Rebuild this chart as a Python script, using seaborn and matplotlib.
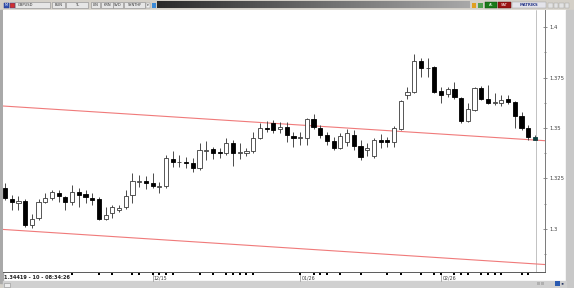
import numpy as np
import pandas as pd
import matplotlib
matplotlib.use("Agg")
import matplotlib.pyplot as plt
import matplotlib.transforms as mtransforms
from matplotlib.patches import Rectangle
from matplotlib.ticker import MultipleLocator, FuncFormatter
import seaborn as sns

# ---------------- data ----------------
opens = [1.3202, 1.3148, 1.3128, 1.3139, 1.3019, 1.3054, 1.3134, 1.3154, 1.3179, 1.3159,
         1.3133, 1.3184, 1.3171, 1.3153, 1.3148, 1.3047, 1.3077, 1.3093, 1.3107, 1.3168,
         1.3232, 1.3239, 1.3229, 1.3207, 1.3212, 1.3346, 1.3329, 1.3333, 1.3325, 1.3300,
         1.3384, 1.3394, 1.3379, 1.3375, 1.3427, 1.3377, 1.3375, 1.3387, 1.3452, 1.3501,
         1.3523, 1.3494, 1.3503, 1.3460, 1.3449, 1.3449, 1.3545, 1.3499, 1.3465, 1.3436,
         1.3399, 1.3431, 1.3465, 1.3411, 1.3391, 1.3361, 1.3440, 1.3440, 1.3429, 1.3494,
         1.3664, 1.3680, 1.3834, 1.3795, 1.3804, 1.3685, 1.3669, 1.3693, 1.3647, 1.3536,
         1.3589, 1.3697, 1.3642, 1.3626, 1.3623, 1.3642, 1.3630, 1.3560, 1.3499, 1.3457]
highs = [1.3227, 1.3168, 1.3163, 1.3148, 1.3073, 1.3148, 1.3178, 1.3192, 1.3192, 1.3163,
         1.3217, 1.3202, 1.3192, 1.3178, 1.3158, 1.3108, 1.3118, 1.3118, 1.3192, 1.3277,
         1.3267, 1.3262, 1.3277, 1.3232, 1.3366, 1.3387, 1.3366, 1.3356, 1.3351, 1.3427,
         1.3437, 1.3406, 1.3401, 1.3449, 1.3440, 1.3426, 1.3401, 1.3482, 1.3523, 1.3535,
         1.3540, 1.3531, 1.3531, 1.3482, 1.3482, 1.3551, 1.3568, 1.3515, 1.3482, 1.3457,
         1.3474, 1.3495, 1.3490, 1.3440, 1.3426, 1.3450, 1.3470, 1.3457, 1.3510, 1.3639,
         1.3705, 1.3867, 1.3846, 1.3846, 1.3809, 1.3705, 1.3705, 1.3730, 1.3654, 1.3623,
         1.3701, 1.3708, 1.3713, 1.3672, 1.3664, 1.3664, 1.3636, 1.3581, 1.3515, 1.3465]
lows = [1.3143, 1.3093, 1.3093, 1.3009, 1.3004, 1.3044, 1.3128, 1.3143, 1.3133, 1.3093,
        1.3118, 1.3108, 1.3128, 1.3118, 1.3044, 1.3044, 1.3054, 1.3083, 1.3098, 1.3129,
        1.3207, 1.3197, 1.3202, 1.3178, 1.3202, 1.3308, 1.3307, 1.3302, 1.3283, 1.3292,
        1.3341, 1.3345, 1.3351, 1.3366, 1.3312, 1.3346, 1.3361, 1.3376, 1.3445, 1.3482,
        1.3474, 1.3474, 1.3432, 1.3404, 1.3416, 1.3416, 1.3495, 1.3449, 1.3416, 1.3391,
        1.3396, 1.3411, 1.3391, 1.3341, 1.3361, 1.3351, 1.3401, 1.3407, 1.3404, 1.3490,
        1.3642, 1.3672, 1.3754, 1.3754, 1.3674, 1.3623, 1.3652, 1.3644, 1.3523, 1.3531,
        1.3584, 1.3639, 1.3619, 1.3614, 1.3611, 1.3619, 1.3499, 1.3490, 1.3440, 1.3440]
closes = [1.3153, 1.3133, 1.3138, 1.3019, 1.3049, 1.3134, 1.3153, 1.3183, 1.3163, 1.3133,
          1.3184, 1.3168, 1.3159, 1.3143, 1.3049, 1.3068, 1.3107, 1.3103, 1.3163, 1.3239,
          1.3239, 1.3229, 1.3212, 1.3212, 1.3350, 1.3330, 1.3333, 1.3325, 1.3300, 1.3391,
          1.3391, 1.3377, 1.3375, 1.3424, 1.3375, 1.3382, 1.3387, 1.3452, 1.3501, 1.3494,
          1.3490, 1.3506, 1.3465, 1.3449, 1.3457, 1.3545, 1.3506, 1.3465, 1.3437, 1.3399,
          1.3462, 1.3475, 1.3411, 1.3356, 1.3401, 1.3440, 1.3431, 1.3429, 1.3499, 1.3635,
          1.3680, 1.3834, 1.3796, 1.3799, 1.3680, 1.3664, 1.3693, 1.3652, 1.3536, 1.3593,
          1.3697, 1.3642, 1.3623, 1.3630, 1.3639, 1.3630, 1.3560, 1.3499, 1.3457, 1.3442]

date_labels = ["12/15", "01/26", "02/26"]
date_label_idx = [22, 44, 65]
day_tick_idx = [10, 14, 16, 19, 20, 22, 23, 24, 25, 29, 31, 33, 34, 35, 36, 37,
                44, 46, 47, 48, 50, 53, 57, 59, 62, 64, 65, 67, 68, 69, 71, 72,
                73, 74, 77, 78]
y_ticks = [1.3, 1.325, 1.35, 1.375, 1.4]
channel_x = [-0.3, 80.5]
channel_upper = [1.3609, 1.3437]
channel_lower = [1.2997, 1.2823]
status_text = "1.34419 - 10 - 08:34:26"
toolbar_buttons = ["GBPUSD", "BUN", "TL", "LIN", "KRN", "SVD", "SYNTHF"]

# ---------------- figure ----------------
sns.set_style("white")
plt.rcParams["font.family"] = ["DejaVu Sans"]

W, H = 574, 288
fig = plt.figure(figsize=(W / 100, H / 100), dpi=100)
fig.patch.set_facecolor("#d4d0c8")

def fx(px):
    return px / W

def fy(py):
    return 1 - py / H

# background layer (pixel coords)
bg = fig.add_axes([0, 0, 1, 1], zorder=-5)
bg.set_xlim(0, W); bg.set_ylim(H, 0); bg.axis("off")
bg.add_patch(Rectangle((0, 0), W, H, color="#d4d0c8"))
bg.add_patch(Rectangle((3, 10), 563, 271, color="white"))
bg.add_patch(Rectangle((0, 10), 2.5, 273, color="#a9a9a9"))
bg.add_patch(Rectangle((566, 10), 8, 278, color="#c8c8c8"))
bg.add_patch(Rectangle((3, 281), 563, 7, color="#d0d0d0"))
bg.add_patch(Rectangle((4, 282.5), 6, 4, facecolor="#ececec", edgecolor="#909090", lw=0.4))

# ---------------- main chart axes ----------------
left, right, top, bottom = 3, 545, 10, 272
ax = fig.add_axes([fx(left), fy(bottom), fx(right - left), (bottom - top) / H])
ax.set_facecolor("white")

idx = np.arange(len(opens))
o = np.array(opens); c = np.array(closes)
hi = np.array(highs); lo = np.array(lows)
bull = c >= o
body_low = np.minimum(o, c)
body_h = np.maximum(np.abs(c - o), 0.00035)

# channel lines (seaborn)
sns.lineplot(x=channel_x, y=channel_upper, ax=ax, color="#f07a7a", lw=0.8, zorder=1)
sns.lineplot(x=channel_x, y=channel_lower, ax=ax, color="#f07a7a", lw=0.8, zorder=1)

# shift line near the last bar
ax.axvline(79.1, color="#b8b8b8", lw=0.6, zorder=0.5)

# wicks
ax.vlines(idx, lo, hi, color="#4a4a4a", lw=0.7, zorder=2)
# bodies
ax.bar(idx[bull], body_h[bull], bottom=body_low[bull], width=0.62,
       color="white", edgecolor="#3a3a3a", linewidth=0.6, zorder=3)
bear_colors = ["black"] * int((~bull).sum())
bear_colors[-1] = "#0f3f3f"  # last (live) bar, drawn over by the channel line
ax.bar(idx[~bull], body_h[~bull], bottom=body_low[~bull], width=0.62,
       color=bear_colors, edgecolor=bear_colors, linewidth=0.6, zorder=3)

ax.set_xlim(-0.3, 80.5)
ax.set_ylim(1.2786, 1.4085)

for s in ["top", "left"]:
    ax.spines[s].set_visible(False)
ax.spines["right"].set_color("#7a7a7a")
ax.spines["right"].set_linewidth(0.7)
ax.spines["bottom"].set_color("#5a5a5a")
ax.spines["bottom"].set_linewidth(0.7)

ax.set_xticks([])
ax.yaxis.tick_right()
ax.set_yticks(y_ticks)
ax.yaxis.set_minor_locator(MultipleLocator(0.0125))
ax.yaxis.set_major_formatter(FuncFormatter(lambda v, p: f"{v:g}"))
ax.tick_params(axis="y", which="major", direction="inout", length=3, width=0.5,
               color="#606060", labelsize=3.8, pad=1.5, labelcolor="#404040")
ax.tick_params(axis="y", which="minor", direction="inout", length=1.5, width=0.5,
               color="#606060")
ax.set_xlabel(""); ax.set_ylabel("")
ax.grid(False)

# day markers and date labels under the axis
trans = mtransforms.blended_transform_factory(ax.transData, ax.transAxes)
axh = bottom - top
ax.scatter(day_tick_idx, [-2.2 / axh] * len(day_tick_idx), marker="s", s=2.2,
           color="black", transform=trans, clip_on=False, zorder=5, linewidths=0)
for lab, i in zip(date_labels, date_label_idx):
    ax.plot([i, i], [0, -9 / axh], transform=trans, color="#909090", lw=0.5,
            clip_on=False)
    ax.text(i + 0.2, -5.8 / axh, lab, transform=trans, fontsize=3.4,
            color="#404040", ha="left", va="center")

# ---------------- overlay (toolbar, status) ----------------
ov = fig.add_axes([0, 0, 1, 1], zorder=10)
ov.set_xlim(0, W); ov.set_ylim(H, 0); ov.axis("off"); ov.patch.set_alpha(0)

ov.text(4, 277.6, status_text, fontsize=3.6, fontweight="bold", color="#202020",
        ha="left", va="center")

# toolbar
ov.add_patch(Rectangle((4, 2.5), 4.5, 5, facecolor="#3050b0", edgecolor="#203080", lw=0.3))
ov.text(6.2, 5, "M", fontsize=2.5, color="white", ha="center", va="center")
ov.add_patch(Rectangle((10, 2.5), 4.5, 5, facecolor="#d03030", edgecolor="#2040a0", lw=0.3))
btn_x = [(15, 50), (52, 65), (66, 88), (91, 100), (101, 113), (113, 123), (124, 145)]
for lab, (x0, x1) in zip(toolbar_buttons, btn_x):
    ov.add_patch(Rectangle((x0, 2), x1 - x0, 6, facecolor="#e6e6e6",
                           edgecolor="#8a8a8a", lw=0.4))
    ov.text((x0 + x1) / 2 if lab != "GBPUSD" else x0 + 3, 5.1, lab, fontsize=2.6,
            color="#303030", ha="center" if lab != "GBPUSD" else "left", va="center")
ov.add_patch(Rectangle((145.5, 2.5), 4, 5, facecolor="#f0f0f0", edgecolor="#8a8a8a", lw=0.3))
ov.text(147.5, 5, "\u25be", fontsize=2.5, color="#202020", ha="center", va="center")
ov.add_patch(Rectangle((151.5, 2.5), 4.5, 5, facecolor="#3a8ad8", edgecolor="none"))

grad = np.linspace(0, 1, 256)[None, :]
ov.imshow(grad, extent=(157, 470, 8.5, 1.5), aspect="auto",
          cmap=matplotlib.colors.LinearSegmentedColormap.from_list(
              "bar", ["#2a2a2a", "#6a6a6a", "#a8a8a8"]), zorder=1)
ov.add_patch(Rectangle((472, 2.5), 4, 5, facecolor="#e0a020", edgecolor="none"))
ov.add_patch(Rectangle((478, 2.5), 4.5, 5, facecolor="#50a050", edgecolor="none"))
ov.add_patch(Rectangle((485, 2), 12, 6, facecolor="#1a7a1a", edgecolor="#0a4a0a", lw=0.3))
ov.text(491, 5, "AL", fontsize=2.6, color="white", ha="center", va="center")
ov.add_patch(Rectangle((497.5, 2), 13, 6, facecolor="#9a1414", edgecolor="#5a0a0a", lw=0.3))
ov.text(504, 5, "SAT", fontsize=2.6, color="white", ha="center", va="center")
ov.add_patch(Rectangle((512, 2), 34, 6, facecolor="#e4e4ea", edgecolor="#9a9a9a", lw=0.3))
ov.text(529, 5, "MATRIKS", fontsize=2.7, color="#2a3a8a", ha="center", va="center",
        fontweight="bold")
for x0 in [548, 553.5, 559, 564.5]:
    ov.add_patch(Rectangle((x0, 2.5), 4.5, 5, facecolor="#e2e2e2", edgecolor="#a0a0a0", lw=0.3))

# bottom-right icons
ov.add_patch(Rectangle((537, 282), 2.5, 2.5, facecolor="#b0b0b0", edgecolor="none"))
ov.add_patch(Rectangle((541, 282), 2.5, 2.5, facecolor="#b0b0b0", edgecolor="none"))
ov.add_patch(Rectangle((555, 280.5), 5, 5, facecolor="#2a5ab0", edgecolor="none"))
ov.text(563.5, 283, "\u25c2\u25b8", fontsize=3, color="#203060", ha="center", va="center")

fig.savefig("out.png", dpi=100, facecolor=fig.get_facecolor())
